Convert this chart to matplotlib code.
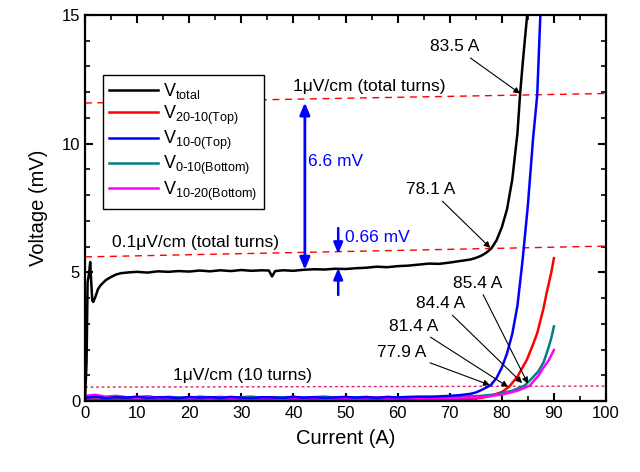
import matplotlib.pyplot as plt
from matplotlib.ticker import MultipleLocator

plt.rcParams['font.family'] = ['Liberation Sans', 'DejaVu Sans']
plt.rcParams['mathtext.default'] = 'regular'

# total voltage (black)
i_total = [0, 0.3, 0.5, 0.8, 1.0, 1.2, 1.4, 1.6, 2.0, 2.5, 3.0, 4.0, 5.0, 6.0, 7.0, 8.5,
           10, 12, 14, 16, 18, 20, 22, 24, 26, 28, 30, 32, 34, 35.3, 35.9, 36.5, 38,
           40, 42, 44, 46, 48, 50, 52, 54, 56, 58, 60, 62, 64, 66, 68, 70, 72, 74,
           75, 76, 77, 78, 79, 80, 81, 82, 83, 83.5, 84, 84.5, 85.0, 85.3]
v_total = [0, 1.5, 4.6, 5.0, 5.4, 4.6, 3.9, 3.85, 4.05, 4.35, 4.5, 4.7, 4.82, 4.92, 4.97, 5.0,
           5.02, 4.99, 5.04, 5.02, 5.05, 5.03, 5.07, 5.04, 5.08, 5.05, 5.09, 5.06, 5.08, 5.07, 4.84, 5.05, 5.08,
           5.06, 5.1, 5.12, 5.11, 5.14, 5.13, 5.16, 5.18, 5.22, 5.2, 5.24, 5.26, 5.3, 5.34, 5.33, 5.38, 5.44, 5.5,
           5.56, 5.64, 5.76, 5.93, 6.25, 6.75, 7.45, 8.6, 10.4, 11.9, 13.1, 14.2, 15.3, 16.0]

# shared current grid for the low (superconducting) part of the segment voltages
i_low = [0, 2, 4, 6, 8, 10, 12, 14, 16, 18, 20, 22, 24, 26, 28, 30, 32, 34, 36, 38,
         40, 42, 44, 46, 48, 50, 52, 54, 56, 58, 60, 62, 64, 66, 68, 70, 72, 74]

v_red_low = [0.04, 0.06, 0.03, 0.07, 0.05, 0.04, 0.08, 0.05, 0.03, 0.06, 0.05, 0.07, 0.04, 0.06, 0.05, 0.03, 0.07, 0.05, 0.06, 0.04,
             0.06, 0.05, 0.07, 0.04, 0.06, 0.05, 0.03, 0.06, 0.05, 0.07, 0.04, 0.06, 0.05, 0.07, 0.06, 0.05, 0.07, 0.08]
v_blue_low = [0.12, 0.16, 0.11, 0.15, 0.13, 0.17, 0.12, 0.15, 0.14, 0.11, 0.16, 0.13, 0.15, 0.12, 0.16, 0.13, 0.11, 0.15, 0.14, 0.12,
              0.16, 0.13, 0.15, 0.12, 0.14, 0.16, 0.13, 0.15, 0.12, 0.16, 0.14, 0.15, 0.17, 0.16, 0.18, 0.2, 0.23, 0.28]
v_teal_low = [0.14, 0.18, 0.13, 0.16, 0.12, 0.15, 0.18, 0.13, 0.16, 0.14, 0.12, 0.17, 0.14, 0.16, 0.13, 0.15, 0.17, 0.12, 0.15, 0.14,
              0.16, 0.13, 0.15, 0.17, 0.13, 0.15, 0.14, 0.16, 0.13, 0.15, 0.14, 0.16, 0.15, 0.17, 0.15, 0.16, 0.17, 0.18]
v_magenta_low = [0.2, 0.24, 0.17, 0.2, 0.15, 0.13, 0.17, 0.12, 0.15, 0.11, 0.14, 0.12, 0.1, 0.14, 0.11, 0.13, 0.1, 0.14, 0.12, 0.1,
                 0.13, 0.11, 0.14, 0.1, 0.12, 0.13, 0.1, 0.12, 0.14, 0.11, 0.12, 0.13, 0.11, 0.12, 0.13, 0.12, 0.13, 0.14]

# transition parts
i_red_high = [76, 78, 80, 81.4, 83, 84.8, 86, 86.8, 88, 88.6, 89, 89.5, 90]
v_red_high = [0.12, 0.2, 0.35, 0.55, 0.95, 1.6, 2.2, 2.64, 3.6, 4.2, 4.55, 5.0, 5.55]
i_blue_high = [75, 76, 77, 77.9, 79, 80, 81, 82, 83, 84, 85, 86, 86.8, 87.3, 87.6]
v_blue_high = [0.33, 0.42, 0.52, 0.62, 0.9, 1.3, 1.85, 2.6, 3.7, 5.5, 7.6, 10.2, 11.9, 14.5, 16.0]
i_teal_high = [76, 78, 80, 82, 84.4, 86, 87, 88, 88.6, 89, 89.5, 90]
v_teal_high = [0.2, 0.24, 0.3, 0.4, 0.6, 0.93, 1.15, 1.5, 1.85, 2.1, 2.45, 2.9]
i_magenta_high = [76, 78, 80, 83, 85.4, 86, 87, 88, 89, 89.5, 90]
v_magenta_high = [0.15, 0.2, 0.25, 0.4, 0.6, 0.75, 0.98, 1.3, 1.58, 1.78, 1.98]

# criterion lines (endpoints at 0 A and 100 A)
crit_i = [0, 100]
crit_total_1uv = [11.58, 11.95]
crit_total_01uv = [5.6, 6.02]
crit_10_1uv = [0.54, 0.58]

labels = ['V$_{total}$', 'V$_{20\\text{-}10(Top)}$', 'V$_{10\\text{-}0(Top)}$',
          'V$_{0\\text{-}10(Bottom)}$', 'V$_{10\\text{-}20(Bottom)}$']
colors = ['black', '#ff0000', '#0000ff', '#008080', '#ff00ff']

fig = plt.figure(figsize=(6.4, 4.72), dpi=100)
ax = fig.add_axes([0.1328, 0.1504, 0.8141, 0.8178])

ax.plot(crit_i, crit_total_1uv, color='#ff0000', lw=1, ls=(0, (5, 4)))
ax.plot(crit_i, crit_total_01uv, color='#ff0000', lw=1, ls=(0, (5, 4)))
ax.plot(crit_i, crit_10_1uv, color='#e0206e', lw=1, ls=(0, (2, 2)))

ax.plot(i_low + i_red_high, v_red_low + v_red_high, color=colors[1], lw=1.8, label=labels[1])
ax.plot(i_low + i_teal_high, v_teal_low + v_teal_high, color=colors[3], lw=1.8, label=labels[3])
ax.plot(i_low + i_magenta_high, v_magenta_low + v_magenta_high, color=colors[4], lw=1.8, label=labels[4])
ax.plot(i_low + i_blue_high, v_blue_low + v_blue_high, color=colors[2], lw=1.8, label=labels[2])
ax.plot(i_total, v_total, color=colors[0], lw=1.8, label=labels[0])

ax.set_xlim(0, 100)
ax.set_ylim(0, 15)
ax.xaxis.set_major_locator(MultipleLocator(10))
ax.xaxis.set_minor_locator(MultipleLocator(5))
ax.yaxis.set_major_locator(MultipleLocator(5))
ax.yaxis.set_minor_locator(MultipleLocator(1))
ax.tick_params(which='both', direction='in', top=True, right=True, labelsize=12)
ax.tick_params(which='major', length=6, width=1.5)
ax.tick_params(which='minor', length=3.5, width=1.2)
for s in ax.spines.values():
    s.set_linewidth(1.6)
ax.set_xlabel('Current (A)', fontsize=14.5, labelpad=6)
ax.set_ylabel('Voltage (mV)', fontsize=14.5, labelpad=10)

handles, labs = ax.get_legend_handles_labels()
order = [labs.index(l) for l in labels]
leg = ax.legend([handles[k] for k in order], [labs[k] for k in order],
                loc='upper left', bbox_to_anchor=(0.0345, 0.8446), borderaxespad=0,
                fancybox=False, edgecolor='black', framealpha=1, fontsize=13,
                handlelength=2.7, labelspacing=0.12, handletextpad=0.3, borderpad=0.35)
leg.get_frame().set_linewidth(1.0)

# criterion texts
ax.text(54.5, 12.24, '1μV/cm (total turns)', fontsize=12.5, ha='center', va='center')
ax.text(21.2, 6.15, '0.1μV/cm (total turns)', fontsize=12.5, ha='center', va='center')
ax.text(30.2, 1.01, '1μV/cm (10 turns)', fontsize=12.5, ha='center', va='center')

# blue voltage-gap arrows
ax.annotate('', xy=(42.2, 11.6), xytext=(42.2, 5.1),
            arrowprops=dict(arrowstyle='<|-|>,head_length=0.6,head_width=0.25', color='#0000ff', lw=2,
                            mutation_scale=12, shrinkA=0, shrinkB=0))
ax.text(42.8, 9.3, '6.6 mV', color='#0000ff', fontsize=12.5, ha='left', va='center')
ax.annotate('', xy=(48.6, 5.72), xytext=(48.6, 6.72),
            arrowprops=dict(arrowstyle='-|>,head_length=0.6,head_width=0.25', color='#0000ff', lw=1.8,
                            mutation_scale=11, shrinkA=0, shrinkB=0))
ax.annotate('', xy=(48.6, 5.17), xytext=(48.6, 4.12),
            arrowprops=dict(arrowstyle='-|>,head_length=0.6,head_width=0.25', color='#0000ff', lw=1.8,
                            mutation_scale=11, shrinkA=0, shrinkB=0))
ax.text(49.9, 6.37, '0.66 mV', color='#0000ff', fontsize=12.5, ha='left', va='center')

# quench-current annotations
arrow = dict(arrowstyle='-|>', color='black', lw=0.8, mutation_scale=9, shrinkA=1, shrinkB=0)
ax.annotate('83.5 A', xy=(83.5, 11.95), xytext=(71.0, 13.76), fontsize=12.5, ha='center', va='center', arrowprops=arrow)
ax.annotate('78.1 A', xy=(77.8, 5.95), xytext=(66.4, 8.2), fontsize=12.5, ha='center', va='center', arrowprops=arrow)
ax.annotate('85.4 A', xy=(85.0, 0.68), xytext=(75.3, 4.58), fontsize=12.5, ha='center', va='center', arrowprops=arrow)
ax.annotate('84.4 A', xy=(83.9, 0.7), xytext=(68.3, 3.77), fontsize=12.5, ha='center', va='center', arrowprops=arrow)
ax.annotate('81.4 A', xy=(81.2, 0.55), xytext=(63.0, 2.91), fontsize=12.5, ha='center', va='center', arrowprops=arrow)
ax.annotate('77.9 A', xy=(77.7, 0.62), xytext=(60.7, 1.9), fontsize=12.5, ha='center', va='center', arrowprops=arrow)

fig.savefig('out.png', dpi=100)
